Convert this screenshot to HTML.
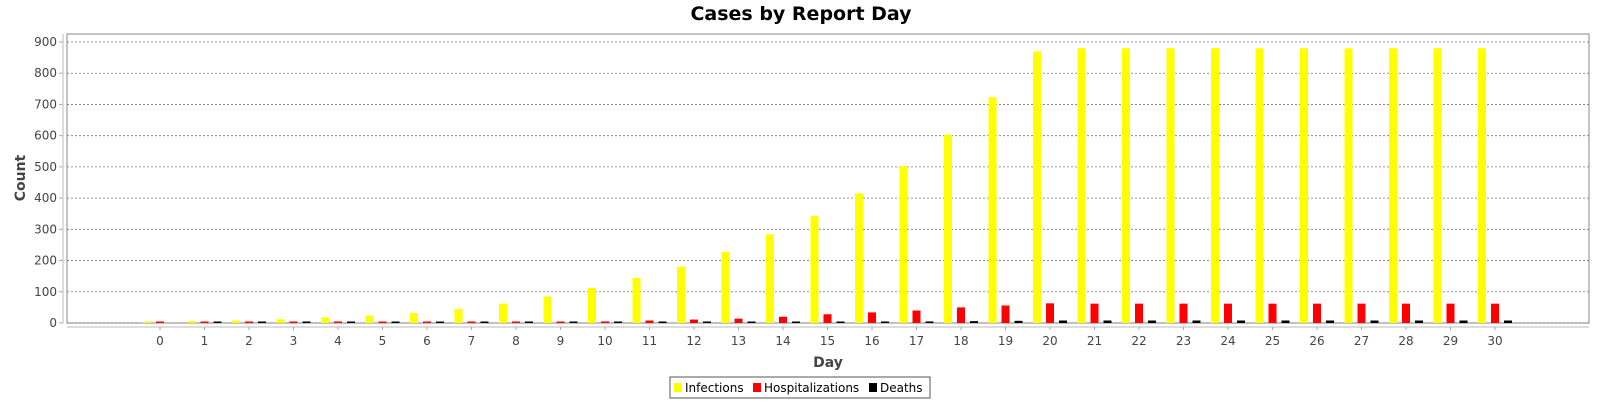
<!DOCTYPE html>
<html><head><meta charset="utf-8"><style>
body{margin:0;background:#fff;font-family:"Liberation Sans","DejaVu Sans",sans-serif}
</style></head><body>
<svg id="chart" width="1600" height="400" xmlns="http://www.w3.org/2000/svg">
<text x="801" y="20" text-anchor="middle" font-size="19" font-weight="bold" font-family="DejaVu Sans, sans-serif">Cases by Report Day</text>
<rect x="67" y="34" width="1522" height="289" fill="#fff" stroke="#888"/>
<g id="grid"></g><g id="bars"></g><g id="axes"></g>
<text x="828" y="367" text-anchor="middle" font-size="14" font-weight="bold" fill="#444" font-family="DejaVu Sans, sans-serif">Day</text>
<text transform="translate(25,178) rotate(-90)" text-anchor="middle" font-size="14" font-weight="bold" fill="#444" font-family="DejaVu Sans, sans-serif">Count</text>
<g>
<rect x="670" y="377" width="260" height="21" fill="#fff" stroke="#555"/>
<g><rect x="674" y="383" width="8" height="9" fill="#ff0"/><text x="685" y="392" font-size="12" font-family="DejaVu Sans, sans-serif">Infections</text></g>
<g><rect x="753" y="383" width="8" height="9" fill="#f00"/><text x="764" y="392" font-size="12" font-family="DejaVu Sans, sans-serif">Hospitalizations</text></g>
<g><rect x="869" y="383" width="8" height="9" fill="#000"/><text x="880" y="392" font-size="12" font-family="DejaVu Sans, sans-serif">Deaths</text></g>
</g>
</svg>
<script>
const categories=[0,1,2,3,4,5,6,7,8,9,10,11,12,13,14,15,16,17,18,19,20,21,22,23,24,25,26,27,28,29,30];
const infections=[5,6,8,12,18,24,32,45,62,85,112,145,180,228,284,343,415,502,603,723,870,880,880,880,880,880,880,880,880,880,880];
const hospitalizations=[4,3,3,3,3,3,3,3,3,3,5,8,11,14,20,28,34,40,50,56,63,62,62,62,62,62,62,62,62,62,62];
const deaths=[0,1,1,1,1,1,1,1,1,1,1,1,1,1,2,3,4,5,6,7,8,8,8,8,8,8,8,8,8,8,8];
const yTicks=[0,100,200,300,400,500,600,700,800,900];
const NS="http://www.w3.org/2000/svg";
const y=v=>323-v*(281/900);
const x=i=>160+i*(1335/30);
function mk(tag,attrs,parent){const e=document.createElementNS(NS,tag);for(const k in attrs)e.setAttribute(k,attrs[k]);document.getElementById(parent).appendChild(e);return e;}
yTicks.forEach(t=>{
 const g=mk('line',{x1:67,x2:1589,y1:y(t),y2:y(t),stroke:'#777','stroke-dasharray':'2,2','stroke-width':0.8},'grid');
 
 
 const l=mk('text',{x:57,y:y(t)+4,'text-anchor':'end','font-size':12,fill:'#444','font-family':'DejaVu Sans, sans-serif'},'axes');
 l.textContent=t;
 
 
 mk('line',{x1:59,x2:63,y1:y(t),y2:y(t),stroke:'#aaa'},'axes');
});
mk('line',{x1:63,x2:63,y1:34,y2:323,stroke:'#bbb'},'axes');
mk('line',{x1:67,x2:1589,y1:327,y2:327,stroke:'#bbb'},'axes');
const series=[[infections,'#ff0',-13],[hospitalizations,'#f00',0],[deaths,'#000',13]];
categories.forEach((c,i)=>{
 const l=mk('text',{x:x(i),y:345,'text-anchor':'middle','font-size':12,fill:'#444','font-family':'DejaVu Sans, sans-serif'},'axes');
 l.textContent=c;
 
 
 mk('line',{x1:x(i),x2:x(i),y1:327,y2:330,stroke:'#aaa'},'axes');
 series.forEach(([arr,col,off])=>{
  const v=arr[i];const h=Math.max(323-y(v),v>0?1.5:0);
  const b=mk('rect',{x:x(i)+off-4,y:323-h,width:8,height:h,fill:col},'bars');
  
  
 });
});
</script>
</body></html>
